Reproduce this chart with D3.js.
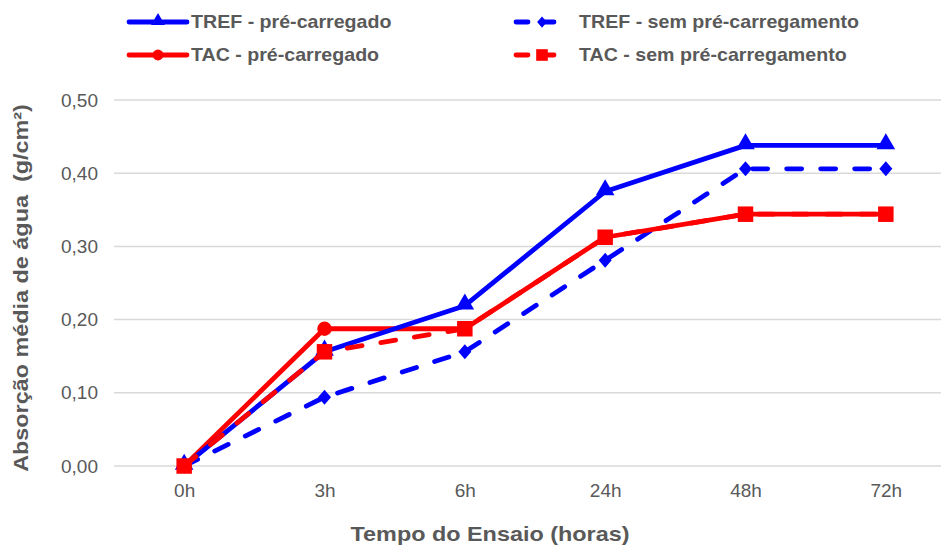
<!DOCTYPE html>
<html>
<head>
<meta charset="utf-8">
<script src="https://cdn.jsdelivr.net/npm/d3@7"></script>
<style>
  html, body { margin: 0; padding: 0; background: #fff; }
  svg { display: block; font-family: "Liberation Sans", Arial, sans-serif; }
</style>
</head>
<body>
<svg id="chart" width="941" height="547"></svg>
<script>
// Ensaio de absorção de água: tempo (categorias) x absorção média (g/cm²)
const categories = ["0h", "3h", "6h", "24h", "48h", "72h"];
const trefPre = [0, 0.156, 0.219, 0.375, 0.438, 0.438];
const trefSem = [0, 0.094, 0.156, 0.281, 0.406, 0.406];
const tacPre  = [0, 0.1875, 0.1875, 0.3125, 0.344, 0.344];
const tacSem  = [0, 0.156, 0.1875, 0.3125, 0.344, 0.344];
const yTicks = [0, 0.1, 0.2, 0.3, 0.4, 0.5];

const BLUE = "#0000ff", RED = "#ff0000", GREY = "#595959";

const series = [
  { name: "TREF - sem pré-carregamento", values: trefSem, color: BLUE, dashed: true,  marker: "diamond" },
  { name: "TAC - pré-carregado",         values: tacPre,  color: RED,  dashed: false, marker: "circle" },
  { name: "TREF - pré-carregado",        values: trefPre, color: BLUE, dashed: false, marker: "triangle" },
  { name: "TAC - sem pré-carregamento",  values: tacSem,  color: RED,  dashed: true,  marker: "square" }
];

const svg = d3.select("#chart");
const plot = { left: 114, right: 956, top: 100, bottom: 466 };

const x = d3.scalePoint().domain(categories).range([plot.left, plot.right]).padding(0.5);
const y = d3.scaleLinear().domain([0, 0.5]).range([plot.bottom, plot.top]);

// gridlines
svg.append("g")
  .selectAll("line").data(yTicks).join("line")
  .attr("x1", plot.left).attr("x2", plot.right)
  .attr("y1", d => y(d)).attr("y2", d => y(d))
  .attr("stroke", "#d9d9d9").attr("stroke-width", 1.5);

// y axis labels
const yAxis = svg.append("g")
  .attr("transform", `translate(${plot.left - 16},0)`)
  .call(d3.axisLeft(y).tickValues(yTicks).tickSize(0).tickPadding(0)
    .tickFormat(d => d3.format(".2f")(d).replace(".", ",")));
yAxis.select(".domain").remove();
yAxis.selectAll("text").attr("fill", GREY).attr("font-size", 19)
  .attr("font-family", "Liberation Sans, Arial, sans-serif");

// x axis labels
const xAxis = svg.append("g")
  .attr("transform", `translate(0,${plot.bottom + 17})`)
  .call(d3.axisBottom(x).tickSize(0).tickPadding(0));
xAxis.select(".domain").remove();
xAxis.selectAll("text").attr("fill", GREY).attr("font-size", 19)
  .attr("dy", "0.71em")
  .attr("font-family", "Liberation Sans, Arial, sans-serif");

// axis titles (slightly widened bold lettering)
svg.append("text")
  .attr("transform", "translate(490,541) scale(1.17,1)")
  .attr("text-anchor", "middle")
  .attr("font-size", 20).attr("font-weight", "bold").attr("fill", GREY)
  .text("Tempo do Ensaio (horas)");
svg.append("text")
  .attr("transform", "translate(28,288) rotate(-90) scale(1.17,1)")
  .attr("text-anchor", "middle")
  .attr("font-size", 20).attr("font-weight", "bold").attr("fill", GREY)
  .attr("xml:space", "preserve")
  .text("Absorção média de água  (g/cm²)");

// marker shapes
const diamondPath = (() => {
  const p = d3.path();
  p.moveTo(0, -7.5); p.lineTo(6.5, 0); p.lineTo(0, 7.5); p.lineTo(-6.5, 0); p.closePath();
  return p.toString();
})();
const markerPath = {
  triangle: d3.symbol().type(d3.symbolTriangle).size(150)(),
  diamond:  diamondPath,
  circle:   d3.symbol().type(d3.symbolCircle).size(165)(),
  square:   d3.symbol().type(d3.symbolSquare).size(240)()
};

const line = d3.line().x((d, i) => x(categories[i])).y(d => y(d));

series.forEach(s => {
  const g = svg.append("g");
  g.append("path")
    .attr("d", line(s.values))
    .attr("fill", "none")
    .attr("stroke", s.color)
    .attr("stroke-width", 4.8)
    .attr("stroke-linejoin", "round")
    .attr("stroke-linecap", "round")
    .attr("stroke-dasharray", s.dashed ? "15 19" : null);
  g.selectAll("path.m").data(s.values).join("path")
    .attr("class", "m")
    .attr("d", markerPath[s.marker])
    .attr("transform", (d, i) => `translate(${x(categories[i])},${y(d) + (s.marker === "triangle" ? -1.5 : 0)})`)
    .attr("fill", s.color);
});

// legend (row-wise order)
const legendItems = [
  { s: series[2], lx: 129, ly: 22 },
  { s: series[0], lx: 516, ly: 22 },
  { s: series[1], lx: 129, ly: 55 },
  { s: series[3], lx: 516, ly: 55 }
];
legendItems.forEach(({ s, lx, ly }) => {
  const lw = s.dashed ? 52 : 58;
  const g = svg.append("g");
  g.append("line")
    .attr("x1", lx).attr("x2", lx + lw).attr("y1", ly).attr("y2", ly)
    .attr("stroke", s.color).attr("stroke-width", 4.8)
    .attr("stroke-linecap", "round")
    .attr("stroke-dasharray", s.dashed ? "12 14" : null);
  g.append("path")
    .attr("d", markerPath[s.marker])
    .attr("transform", `translate(${lx + lw / 2},${ly + (s.marker === "triangle" ? -1 : 0)}) scale(0.75)`)
    .attr("fill", s.color);
  g.append("text")
    .attr("transform", `translate(${lx + lw + (s.dashed ? 11 : 4)},${ly}) scale(1.09,1)`)
    .attr("dy", "0.35em")
    .attr("font-size", 18).attr("font-weight", "bold").attr("fill", GREY)
    .text(s.name);
});
</script>
</body>
</html>
